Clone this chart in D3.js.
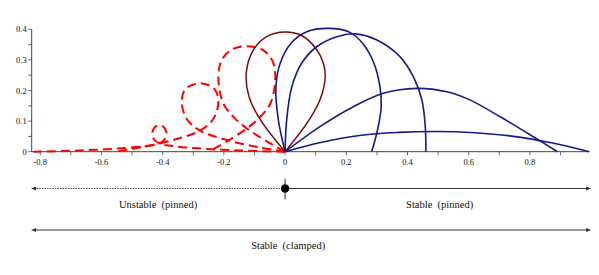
<!DOCTYPE html>
<html lang="en">
<head>
<meta charset="UTF-8">
<title>Elastica shapes</title>
<script src="https://cdn.jsdelivr.net/npm/d3@7"></script>
<style>
  body { margin: 0; background: #fff; }
  svg text { font-family: "Liberation Serif", "DejaVu Serif", serif; fill: #111; }
</style>
</head>
<body>
<svg width="599" height="275"></svg>
<script>
// tick values
var xTicks = [-0.8, -0.7, -0.6, -0.5, -0.4, -0.3, -0.2, -0.1, 0, 0.1, 0.2, 0.3, 0.4, 0.5, 0.6, 0.7, 0.8, 0.9]
var xTickLabels = [-0.8, -0.6, -0.4, -0.2, 0, 0.2, 0.4, 0.6, 0.8]
var yTicks = [0, 0.05, 0.1, 0.15, 0.2, 0.25, 0.3, 0.35, 0.4]
var yTickLabels = [0, 0.1, 0.2, 0.3, 0.4]

// stable shapes (blue)
var blue1 = [[0,0],[0.12,0.031],[0.25,0.054],[0.37,0.063],[0.49,0.066],[0.62,0.062],[0.74,0.051],[0.87,0.029],[0.994,0]]
var blue2 = [[0,0],[0.114,0.082],[0.223,0.147],[0.321,0.191],[0.43,0.207],[0.528,0.196],[0.6,0.171],[0.703,0.114],[0.811,0.049],[0.89,0]]
var blue3 = [[0,0],[0.005,0.103],[0.022,0.212],[0.054,0.289],[0.103,0.343],[0.169,0.376],[0.23,0.385],[0.3,0.365],[0.376,0.31],[0.419,0.245],[0.447,0.169],[0.458,0.082],[0.46,0]]
var blue4 = [[0,0],[-0.022,0.103],[-0.03,0.212],[-0.016,0.289],[0.02,0.355],[0.071,0.392],[0.142,0.403],[0.212,0.39],[0.255,0.352],[0.29,0.29],[0.31,0.212],[0.314,0.147],[0.302,0.071],[0.283,0]]
// teardrop (end-to-end distance zero)
var maroon = [[0,0],[-0.08,0.103],[-0.118,0.18],[-0.127,0.256],[-0.104,0.332],[-0.06,0.376],[0,0.391],[0.055,0.379],[0.1,0.338],[0.125,0.289],[0.131,0.245],[0.116,0.175],[0.078,0.103],[0,0]]
// unstable shapes (red dashed)
var red1 = [[0,0],[-0.06,0.034],[-0.125,0.076],[-0.169,0.114],[-0.203,0.16],[-0.218,0.245],[-0.207,0.3],[-0.174,0.334],[-0.125,0.345],[-0.076,0.334],[-0.043,0.3],[-0.032,0.245],[-0.047,0.16],[-0.081,0.114],[-0.125,0.076],[-0.19,0.034],[-0.25,0]]
var red2 = [[0,0],[-0.09,0.015],[-0.19,0.038],[-0.278,0.069],[-0.32,0.105],[-0.338,0.163],[-0.325,0.205],[-0.278,0.224],[-0.231,0.205],[-0.218,0.163],[-0.236,0.105],[-0.278,0.069],[-0.366,0.038],[-0.466,0.015],[-0.556,0]]
var red3 = [[0,0],[-0.15,0.004],[-0.3,0.012],[-0.38,0.02],[-0.411,0.027],[-0.428,0.04],[-0.434,0.062],[-0.426,0.08],[-0.411,0.087],[-0.396,0.08],[-0.388,0.062],[-0.394,0.04],[-0.411,0.027],[-0.442,0.02],[-0.522,0.012],[-0.672,0.004],[-0.822,0]]

var blueCurves = [blue1, blue2, blue3, blue4]
var redCurves = [red1, red2, red3]

// lower diagram
var lineExtent = [-0.83, 1.0]
var labels = [
    {text: "Unstable  (pinned)", x: -0.415, row: 0},
    {text: "Stable  (pinned)", x: 0.505, row: 0},
    {text: "Stable  (clamped)", x: 0.01, row: 1}
]

var svg = d3.select("svg")

var x = d3.scaleLinear().domain([-0.828, 0.994]).range([31.7, 589.3])
var y = d3.scaleLinear().domain([0, 0.4]).range([151.7, 29.3])

var fmt = function(d) { return d === 0 ? "0" : String(d) }

// x axis
svg.append("line")
    .attr("x1", x.range()[0]).attr("x2", x.range()[1])
    .attr("y1", y(0)).attr("y2", y(0))
    .attr("stroke", "#444").attr("stroke-width", 1)
svg.selectAll(".xt").data(xTicks).join("line")
    .attr("x1", d => x(d)).attr("x2", d => x(d))
    .attr("y1", y(0)).attr("y2", y(0) + 3.5)
    .attr("stroke", "#444").attr("stroke-width", 0.8)
svg.selectAll(".xl").data(xTickLabels).join("text")
    .attr("x", d => x(d)).attr("y", y(0) + 13)
    .attr("text-anchor", "middle")
    .attr("font-size", 8.5)
    .text(fmt)

// y axis
svg.append("line")
    .attr("x1", x.range()[0]).attr("x2", x.range()[0])
    .attr("y1", y(0)).attr("y2", y(0.4))
    .attr("stroke", "#444").attr("stroke-width", 1)
svg.selectAll(".yt").data(yTicks).join("line")
    .attr("x1", x.range()[0] - 3.5).attr("x2", x.range()[0])
    .attr("y1", d => y(d)).attr("y2", d => y(d))
    .attr("stroke", "#444").attr("stroke-width", 0.8)
svg.selectAll(".yl").data(yTickLabels).join("text")
    .attr("x", x.range()[0] - 5).attr("y", d => y(d) + 3)
    .attr("text-anchor", "end")
    .attr("font-size", 8.5)
    .text(fmt)

var line = d3.line()
    .x(d => x(d[0]))
    .y(d => y(d[1]))
    .curve(d3.curveCatmullRom.alpha(0.5))

svg.selectAll(".red").data(redCurves).join("path")
    .attr("d", line)
    .attr("fill", "none")
    .attr("stroke", "#ff0000")
    .attr("stroke-width", 2)
    .attr("stroke-dasharray", "9,5")

svg.append("path")
    .attr("d", line(maroon))
    .attr("fill", "none")
    .attr("stroke", "#7a0a0a")
    .attr("stroke-width", 1.5)

svg.selectAll(".blue").data(blueCurves).join("path")
    .attr("d", line)
    .attr("fill", "none")
    .attr("stroke", "#141a8c")
    .attr("stroke-width", 1.6)

// lower diagram: stability ranges
var rowY = [188.5, 230]
var ink = "#333"

function arrowHead(px, py, dir) {
    svg.append("path")
        .attr("d", "M" + px + "," + py + "l" + (-5 * dir) + ",-2l0,4z")
        .attr("fill", ink)
}

svg.append("line")
    .attr("x1", x(lineExtent[0]) + 3).attr("x2", x(0))
    .attr("y1", rowY[0]).attr("y2", rowY[0])
    .attr("stroke", ink).attr("stroke-width", 1.1)
    .attr("stroke-dasharray", "1.3,1.3")
svg.append("line")
    .attr("x1", x(0)).attr("x2", x(lineExtent[1]) - 3)
    .attr("y1", rowY[0]).attr("y2", rowY[0])
    .attr("stroke", ink).attr("stroke-width", 1.1)
arrowHead(x(lineExtent[0]), rowY[0], -1)
arrowHead(x(lineExtent[1]), rowY[0], 1)
svg.append("line")
    .attr("x1", x(0)).attr("x2", x(0))
    .attr("y1", rowY[0] - 10).attr("y2", rowY[0] + 11)
    .attr("stroke", ink).attr("stroke-width", 1)
svg.append("circle")
    .attr("cx", x(0)).attr("cy", rowY[0]).attr("r", 4.2)
    .attr("fill", "#000")

svg.append("line")
    .attr("x1", x(lineExtent[0]) + 3).attr("x2", x(lineExtent[1]) - 3)
    .attr("y1", rowY[1]).attr("y2", rowY[1])
    .attr("stroke", ink).attr("stroke-width", 1.1)
arrowHead(x(lineExtent[0]), rowY[1], -1)
arrowHead(x(lineExtent[1]), rowY[1], 1)

svg.selectAll(".lab").data(labels).join("text")
    .attr("x", d => x(d.x))
    .attr("y", d => rowY[d.row] + 19)
    .attr("text-anchor", "middle")
    .attr("font-size", 10.5)
    .style("white-space", "pre")
    .text(d => d.text)
</script>
</body>
</html>
